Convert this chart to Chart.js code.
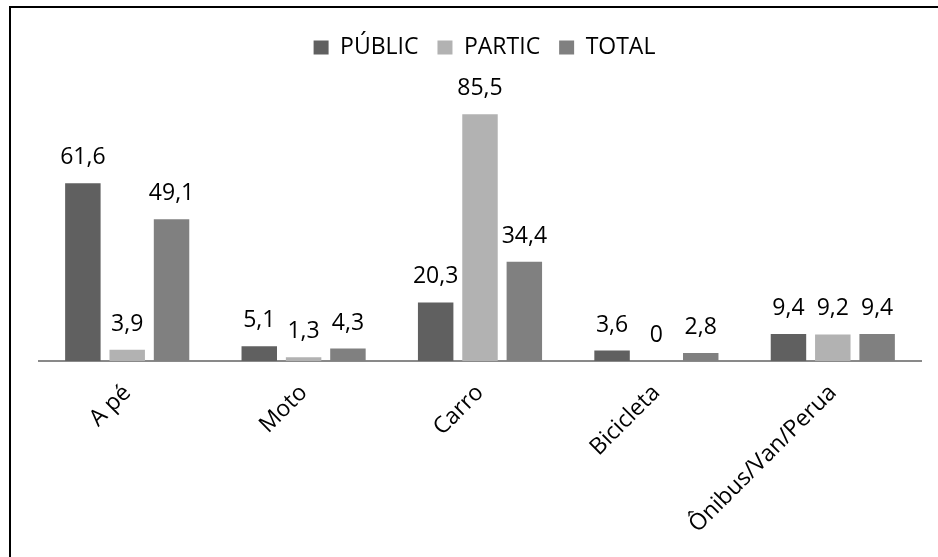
<!DOCTYPE html>
<html>
<head>
<meta charset="utf-8">
<script src="https://cdn.jsdelivr.net/npm/chart.js@4/dist/chart.umd.min.js"></script>
<style>
  html, body { margin: 0; padding: 0; background: #fff; }
  body { width: 938px; height: 557px; overflow: hidden; position: relative; }
  #frame {
    position: absolute; left: 9px; top: 6px; width: 1000px; height: 600px;
    border-top: 2px solid #000; border-left: 2px solid #000; box-sizing: border-box;
  }
  #wrap { position: absolute; left: 0; top: 0; width: 938px; height: 557px; }
</style>
</head>
<body>
<div id="frame"></div>
<div id="wrap"><canvas id="c" width="938" height="557"></canvas></div>
<script>
// Meio de transporte utilizado, em %
const categories = ['A pé', 'Moto', 'Carro', 'Bicicleta', 'Ônibus/Van/Perua'];
const publicValues = [61.6, 5.1, 20.3, 3.6, 9.4];
const particValues = [3.9, 1.3, 85.5, 0, 9.2];
const totalValues = [49.1, 4.3, 34.4, 2.8, 9.4];
const seriesNames = ['PÚBLIC', 'PARTIC', 'TOTAL'];

const FONT = 'Open Sans';
const SIZE = 23;
Chart.defaults.font.family = FONT;
Chart.defaults.font.size = SIZE;
Chart.defaults.color = '#000';

const fmt = new Intl.NumberFormat('pt-BR', { maximumFractionDigits: 1 });

// value labels above each bar
const valueLabels = {
  id: 'valueLabels',
  afterDatasetsDraw(chart) {
    const ctx = chart.ctx;
    ctx.save();
    ctx.font = SIZE + 'px "' + FONT + '"';
    ctx.fillStyle = '#000';
    ctx.textAlign = 'center';
    ctx.textBaseline = 'alphabetic';
    chart.data.datasets.forEach((ds, i) => {
      const meta = chart.getDatasetMeta(i);
      meta.data.forEach((bar, j) => {
        ctx.fillText(fmt.format(ds.data[j]), bar.x, bar.y - 19);
      });
    });
    ctx.restore();
  }
};

// a little extra room between the legend and the bars
const legendGap = {
  id: 'legendGap',
  beforeUpdate(chart) {
    const lg = chart.legend;
    if (lg && !lg._gapPatched) {
      const fit = lg.fit;
      lg.fit = function () { fit.call(this); this.height += 3.5; };
      lg._gapPatched = true;
    }
  }
};

const common = { barPercentage: 0.8, categoryPercentage: 0.754, borderWidth: 0 };

new Chart(document.getElementById('c'), {
  type: 'bar',
  data: {
    labels: categories,
    datasets: [
      { label: seriesNames[0], data: publicValues, backgroundColor: '#606060', ...common },
      { label: seriesNames[1], data: particValues, backgroundColor: '#b2b2b2', ...common },
      { label: seriesNames[2], data: totalValues, backgroundColor: '#808080', ...common }
    ]
  },
  options: {
    responsive: false,
    animation: false,
    layout: { padding: { left: 39, right: 8, top: 17, bottom: 0 } },
    plugins: {
      legend: {
        position: 'top',
        labels: { boxWidth: 15, boxHeight: 14, padding: 19, color: '#000', font: { size: SIZE } }
      },
      tooltip: { enabled: false }
    },
    scales: {
      x: {
        grid: { display: false, drawTicks: false },
        border: { display: true, color: '#898989', width: 2 },
        ticks: { autoSkip: false, minRotation: 45, maxRotation: 45, padding: 20, color: '#000', font: { size: SIZE, lineHeight: 1.0 } },
        afterFit(s) { s.height = 196; }
      },
      y: {
        min: 0, max: 100,
        grid: { display: false },
        border: { display: false },
        ticks: { display: false },
        afterFit(s) { s.width = 0; }
      },
      y2: {
        position: 'right',
        display: true,
        min: 0, max: 100,
        grid: { display: false },
        border: { display: false },
        ticks: { display: false },
        afterFit(s) { s.width = 9; }
      }
    }
  },
  plugins: [valueLabels, legendGap]
});
</script>
</body>
</html>
